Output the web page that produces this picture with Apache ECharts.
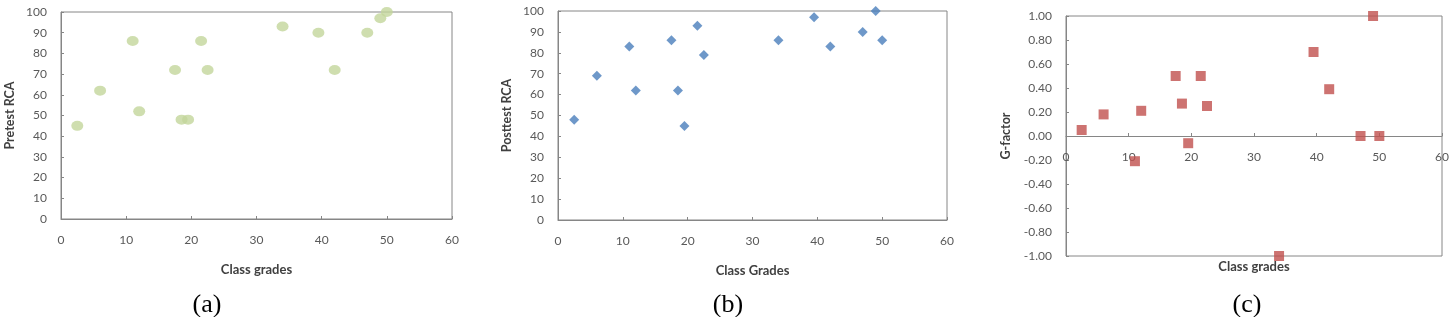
<!DOCTYPE html>
<html>
<head>
<meta charset="utf-8">
<script src="https://cdn.jsdelivr.net/npm/echarts@6/dist/echarts.min.js"></script>
<style>
  html, body { margin: 0; padding: 0; background: #fff; }
  #main { width: 1453px; height: 317px; }
</style>
</head>
<body>
<div id="main"></div>
<script>
// 班级成绩 (x)
var classGrades = [2.5, 6, 11, 12, 17.5, 18.5, 19.5, 21.5, 22.5, 34, 39.5, 42, 47, 49, 50];
// (a) Pretest RCA
var pretest = [45, 62, 86, 52, 72, 48, 48, 86, 72, 93, 90, 72, 90, 97, 100];
// (b) Posttest RCA
var posttest = [48, 69, 83, 62, 86, 62, 45, 93, 79, 86, 97, 83, 90, 100, 86];
// (c) G-factor
var gFactor = [0.05, 0.18, -0.21, 0.21, 0.5, 0.27, -0.06, 0.5, 0.25, -1.0, 0.7, 0.39, 0, 1.0, 0];
var captions = ['(a)', '(b)', '(c)'];

function pairs(xs, ys){
  var out = [];
  for(var i=0;i<xs.length;i++){
    out.push([xs[i], ys[i]]);
  }
  return out;
}

var lineColor = '#868686';
var labelColor = '#595959';
var font = 'Lato, "Open Sans", sans-serif';

function xAxisOf(idx, title, gap, offset){
  return {
    type: 'value', gridIndex: idx, min: 0, max: 60, interval: 10,
    offset: offset || 0,
    name: title, nameLocation: 'middle', nameGap: gap,
    nameTextStyle: { color: '#404040', fontWeight: 'bold', fontSize: 13, fontFamily: font },
    axisLine: { show: true, onZero: false, lineStyle: { color: lineColor, width: 1 } },
    axisTick: { show: true, inside: true, length: 3, lineStyle: { color: lineColor } },
    axisLabel: { color: labelColor, fontSize: 12, fontFamily: font, margin: 15 },
    splitLine: { show: false }
  };
}

function yAxisOf(idx, title, gap, min, max, interval, fmt){
  return {
    type: 'value', gridIndex: idx, min: min, max: max, interval: interval,
    name: title, nameLocation: 'middle', nameGap: gap, nameRotate: 90,
    nameTextStyle: { color: '#404040', fontWeight: 'bold', fontSize: 12.5, fontFamily: font },
    axisLine: { show: true, lineStyle: { color: lineColor, width: 1 } },
    axisTick: { show: true, inside: true, length: 3, lineStyle: { color: lineColor } },
    axisLabel: { color: labelColor, fontSize: 12, fontFamily: font, margin: 14, formatter: fmt },
    splitLine: { show: false }
  };
}

var chart = echarts.init(document.getElementById('main'));
var option = {
  animation: false,
  grid: [
    { left: 61, top: 12, width: 391, height: 207, show: true, borderColor: lineColor, borderWidth: 1, outerBoundsMode: 'none' },
    { left: 558, top: 11, width: 389, height: 209, show: true, borderColor: lineColor, borderWidth: 1, outerBoundsMode: 'none' },
    { left: 1066, top: 16, width: 376, height: 240, show: true, borderColor: lineColor, borderWidth: 1, outerBoundsMode: 'none' }
  ],
  xAxis: [
    xAxisOf(0, 'Class grades', 44),
    xAxisOf(1, 'Class Grades', 44),
    // (c) x轴放在 0 的位置 (网格高度的一半)
    xAxisOf(2, 'Class grades', 124, -120)
  ],
  yAxis: [
    yAxisOf(0, 'Pretest RCA', 45, 0, 100, 10),
    yAxisOf(1, 'Posttest RCA', 45, 0, 100, 10),
    yAxisOf(2, 'G-factor', 54, -1, 1, 0.2, function(v){ return v.toFixed(2); })
  ],
  series: [
    {
      type: 'scatter', xAxisIndex: 0, yAxisIndex: 0,
      symbol: 'circle', symbolSize: [12, 10],
      itemStyle: { color: '#c3d69b' },
      data: pairs(classGrades, pretest)
    },
    {
      type: 'scatter', xAxisIndex: 1, yAxisIndex: 1,
      symbol: 'diamond', symbolSize: 10,
      itemStyle: { color: '#4a7ebb' },
      data: pairs(classGrades, posttest)
    },
    {
      type: 'scatter', xAxisIndex: 2, yAxisIndex: 2,
      symbol: 'rect', symbolSize: 10,
      itemStyle: { color: '#c0504d' },
      data: pairs(classGrades, gFactor)
    }
  ],
  // 子图标题 (a)(b)(c)
  graphic: [
    { type: 'text', x: 207, y: 292, style: { text: captions[0], textAlign: 'center', textVerticalAlign: 'top', font: '26px "Liberation Serif", serif', fill: '#000' } },
    { type: 'text', x: 728, y: 292, style: { text: captions[1], textAlign: 'center', textVerticalAlign: 'top', font: '26px "Liberation Serif", serif', fill: '#000' } },
    { type: 'text', x: 1247, y: 292, style: { text: captions[2], textAlign: 'center', textVerticalAlign: 'top', font: '26px "Liberation Serif", serif', fill: '#000' } }
  ]
};
chart.setOption(option);
</script>
</body>
</html>
